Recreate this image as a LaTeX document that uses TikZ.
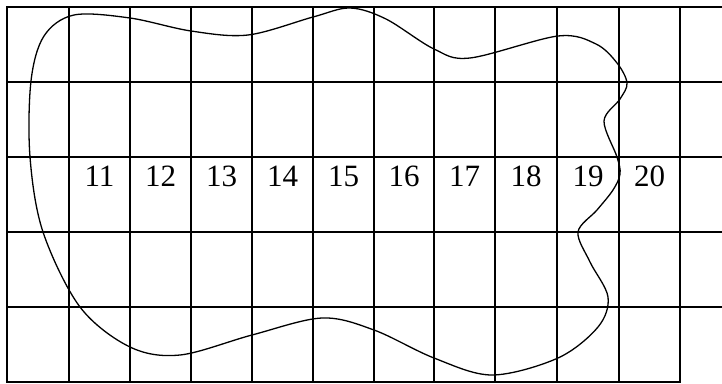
\documentclass[tikz,border=0pt]{standalone}
\usepackage{fontspec}
\setmainfont{Liberation Serif}
\begin{document}
\begin{tikzpicture}[x=1pt,y=-1pt,
  gridline/.style={line width=1.8pt, line cap=rect},
  blob/.style={line width=1.3pt},
  lab/.style={font=\fontsize{31}{33}\selectfont, inner sep=0pt}]
\useasboundingbox (0,0) rectangle (722,383);
% vertical lines
\foreach \x in {7,69,130,191,252,313,374,434,495,557,619,680}
  \draw[gridline] (\x,7) -- (\x,382);
% horizontal lines
\foreach \y in {7,82,157,232,307}
  \draw[gridline] (7,\y) -- (722,\y);
\draw[gridline] (7,382) -- (680,382);
% labels
\foreach \n/\x in {11/99.5,12/160.5,13/221.5,14/282.5,15/343.5,16/404,17/464.5,18/526,19/588,20/649.5}
  \node[lab] (c\n) at (\x,176) {\n};
% closed curve
\draw[blob] plot[smooth cycle, tension=0.55] coordinates {
 (31,81) (44,36) (74,15) (130,18) (191,31) (248,35)
 (313,17) (350,8) (386,19) (434,49) (470,58) (558,36)
 (596,44) (617,63) (627,83) (620,99) (604,121) (617,157) (620,174) (613,190)
 (597,210) (578,232) (590,262) (608,297) (598,327) (558,358) (492,375)
 (434,358) (374,330) (322,318) (252,335) (180,355)
 (130,347) (80,307) (43,232) (30,157)};
\end{tikzpicture}
\end{document}
